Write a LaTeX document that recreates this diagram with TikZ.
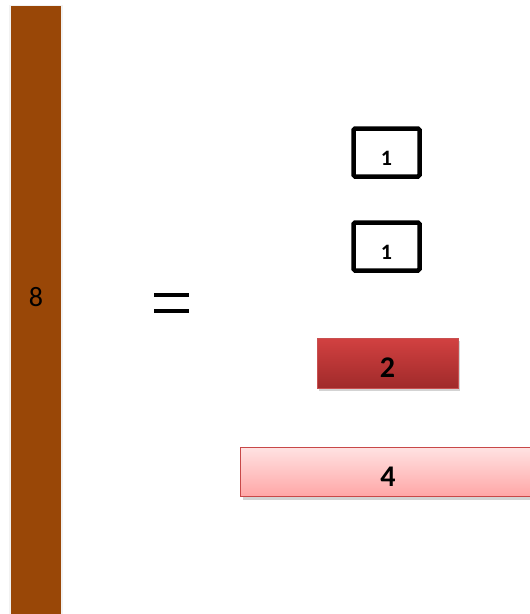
\documentclass[tikz,border=0pt]{standalone}
\usepackage{fontspec}
\setmainfont{Carlito}
\usetikzlibrary{shadows}
\definecolor{barbrown}{HTML}{994707}
\definecolor{redtop}{HTML}{D24141}
\definecolor{redbot}{HTML}{A02A2A}
\definecolor{redborder}{HTML}{C85050}
\definecolor{pinktop}{HTML}{FFE2E2}
\definecolor{pinkbot}{HTML}{FFA6A6}
\definecolor{pinkborder}{HTML}{C84848}
\tikzset{
  unitbox/.style={draw=black, line width=4.5pt, rounded corners=1.5pt, minimum width=66pt, minimum height=48pt, inner sep=0pt},
  onelabel/.style={font=\bfseries\fontsize{22}{22}\selectfont},
  biglabel/.style={font=\bfseries\fontsize{30}{30}\selectfont},
  twobox/.style={draw=redborder, line width=1pt, top color=redtop, bottom color=redbot, minimum width=141pt, minimum height=50pt, inner sep=0pt, drop shadow={shadow xshift=2pt, shadow yshift=-3pt, opacity=0.35}},
  fourbox/.style={draw=pinkborder, line width=1pt, top color=pinktop, bottom color=pinkbot, minimum width=292pt, minimum height=49pt, inner sep=0pt, drop shadow={shadow xshift=2pt, shadow yshift=-3pt, opacity=0.35}},
  eqline/.style={line width=4pt, black}
}
\begin{document}
\begin{tikzpicture}[x=1pt, y=-1pt]
\useasboundingbox (0,0) rectangle (530,614);
% brown bar
\fill[black, opacity=0.05] (9,5) rectangle (63,614);
\node[fill=barbrown, minimum width=50pt, minimum height=608pt, inner sep=0pt, anchor=north west] (bar) at (11,6) {};
\node[font=\fontsize{28}{28}\selectfont] (eight) at (36,297) {8};
% equals
\coordinate (e1a) at (154,295); \coordinate (e1b) at (189,295);
\coordinate (e2a) at (154,311); \coordinate (e2b) at (189,311);
\draw[eqline] (e1a) -- (e1b);
\draw[eqline] (e2a) -- (e2b);
% unit boxes
\node[unitbox] (u1) at (386.5,152.5) {};
\node[onelabel] (u1t) at (386.5,158) {1};
\node[unitbox] (u2) at (386.5,246.5) {};
\node[onelabel] (u2t) at (386.5,252) {1};
% two
\node[twobox] (two) at (387.5,363) {};
\node[biglabel] (twot) at (387.5,368) {2};
% four
\node[fourbox, anchor=north west] (four) at (240,447) {};
\node[biglabel] (fourt) at (388,477) {4};
\end{tikzpicture}
\end{document}
